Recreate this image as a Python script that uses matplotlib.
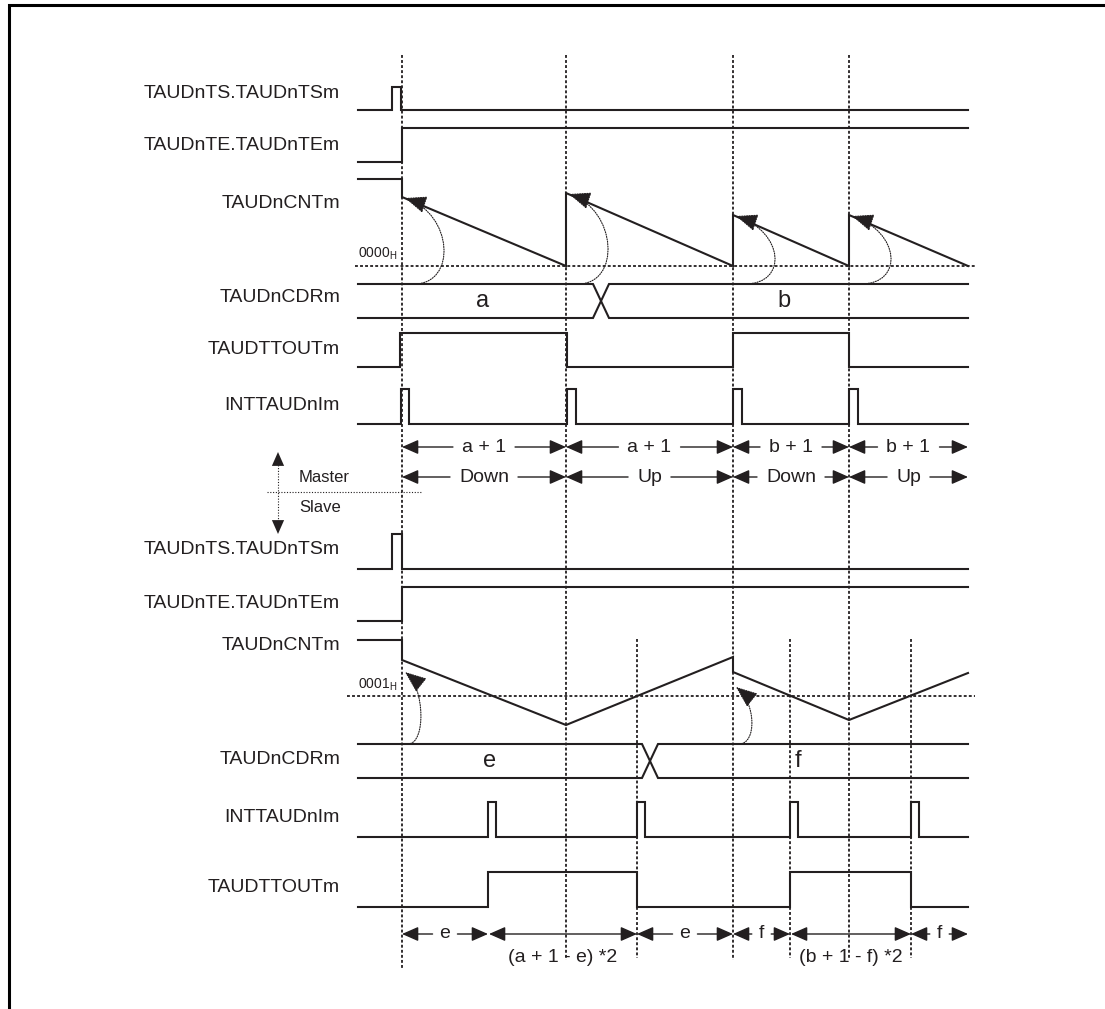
import matplotlib.pyplot as plt
from matplotlib.patches import FancyArrowPatch
from matplotlib.path import Path

ink = '#231f20'
plt.rcParams['font.family'] = ['Liberation Sans', 'DejaVu Sans']

# timing marks (pixel positions along the time axis)
x_start, x_end = 358, 968
t_master = [402, 566, 733, 849]
t_slave = [637, 790, 911]

# master channel
master_labels = ['TAUDnTS.TAUDnTSm', 'TAUDnTE.TAUDnTEm', 'TAUDnCNTm',
                 'TAUDnCDRm', 'TAUDTTOUTm', 'INTTAUDnIm']
ts_m_edges = [392, 401]
te_m_edges = [402]
tout_m_edges = [400, 567, 733, 849]
int_m_edges = [401, 409, 567, 576, 733, 742, 849, 858]
cnt_m_x = [358, 402, 402, 566, 566, 733, 733, 849, 849, 968]
cnt_m_y = [179, 179, 197, 266, 193, 266, 215, 266, 215, 266]
cnt_m_reload = [197, 193, 215, 215]
cdr_m_values = ['a', 'b']
cdr_m_value_x = [483, 784]
cdr_m_change = 593
row1_labels = ['a + 1', 'a + 1', 'b + 1', 'b + 1']
row2_labels = ['Down', 'Up', 'Down', 'Up']

# slave channel
slave_labels = ['TAUDnTS.TAUDnTSm', 'TAUDnTE.TAUDnTEm', 'TAUDnCNTm',
                'TAUDnCDRm', 'INTTAUDnIm', 'TAUDTTOUTm']
ts_s_edges = [392, 402]
te_s_edges = [402]
int_s_edges = [488, 496, 637, 645, 790, 798, 911, 919]
tout_s_edges = [488, 637, 790, 911]
cnt_s_x = [358, 402, 402, 566, 733, 733, 849, 968]
cnt_s_y = [640, 640, 660, 725, 657, 672, 720, 673]
cnt_s_reload_x = [402, 733]
cnt_s_reload = [672, 687]
cdr_s_values = ['e', 'f']
cdr_s_value_x = [490, 798]
cdr_s_change = 642
slave_bounds = [402, 488, 637, 733, 790, 911, 968]
slave_spans = ['e', '(a + 1 - e) *2', 'e', 'f', '(b + 1 - f) *2', 'f']
slave_long = [False, True, False, False, True, False]

# layout (row levels, label positions)
m_rows = {'ts': (87, 110), 'te': (128, 162), 'tout': (333, 367), 'int': (389, 424)}
s_rows = {'ts': (534, 569), 'te': (587, 621), 'int': (802, 837), 'tout': (872, 907)}
m_label_y = [94, 146, 203, 298, 350, 405]
s_label_y = [550, 603, 646, 760, 818, 888]
cdr_m_y = (284, 318)
cdr_s_y = (744, 778)
zero_m_y, zero_s_y = 266, 696

fig = plt.figure(figsize=(11.05, 10.09), dpi=100)
ax = fig.add_axes([0, 0, 1, 1])
ax.set_xlim(0, 1105)
ax.set_ylim(1009, 0)
ax.axis('off')
renderer = fig.canvas.get_renderer()

sig = dict(color=ink, lw=1.5, solid_joinstyle='miter')
dots = dict(color=ink, lw=1.3, linestyle=(0, (1.6, 1.2)))


def wave(edges, hi, lo):
    xs, ys, lvl = [x_start], [lo], lo
    for e in edges:
        nxt = hi if lvl == lo else lo
        xs += [e, e]
        ys += [lvl, nxt]
        lvl = nxt
    xs.append(x_end)
    ys.append(lvl)
    ax.plot(xs, ys, **sig)


def bus(change, top, bot, values, value_x, fs):
    w = 16
    ax.plot([x_start, change, change + w, x_end], [top, top, bot, bot], **sig)
    ax.plot([x_start, change, change + w, x_end], [bot, bot, top, top], **sig)
    for v, vx in zip(values, value_x):
        ax.text(vx, (top + bot) / 2, v, ha='center', va='center', fontsize=fs, color=ink)


def arrow(p0, p1, style='-|>', lw=1.0):
    ax.add_patch(FancyArrowPatch(p0, p1, arrowstyle=style + ',head_length=0.5,head_width=0.22',
                                 mutation_scale=20, lw=lw, color=ink,
                                 shrinkA=0, shrinkB=0))


def span(x0, x1, y, label, fs=14, gap=9, family=None):
    t = ax.text((x0 + x1) / 2, y, label, ha='center', va='center', fontsize=fs,
                color=ink, family=family)
    bb = t.get_window_extent(renderer).transformed(ax.transData.inverted())
    arrow((bb.x0 - gap, y), (x0, y))
    arrow((bb.x1 + gap, y), (x1, y))


def curl(x, top, peak, reach, rise, off=12):
    # dotted reload arc from the data register up to the counter
    verts = [(x + off, top), (x + off + reach * 0.9, top),
             (x + 3 + reach, peak + rise), (x + 3, peak)]
    path = Path(verts, [Path.MOVETO, Path.CURVE4, Path.CURVE4, Path.CURVE4])
    ax.add_patch(FancyArrowPatch(path=path,
                                 arrowstyle='-|>,head_length=0.75,head_width=0.3',
                                 mutation_scale=18, lw=0.8, color=ink,
                                 linestyle=(0, (1, 1.2))))


# frame
ax.plot([9, 9, 1105], [1009, 5, 5], color='black', lw=2.2, solid_joinstyle='miter')

# vertical timing guides
for x in t_master:
    ax.plot([x, x], [55, 970 if x == t_master[0] else 960], **dots)
for x in t_slave:
    ax.plot([x, x], [639, 958], **dots)

# ---- master ----
for lab, y in zip(master_labels, m_label_y):
    ax.text(340, y, lab, ha='right', va='center', fontsize=14, color=ink)

wave(ts_m_edges, *m_rows['ts'])
wave(te_m_edges, *m_rows['te'])
wave(tout_m_edges, *m_rows['tout'])
wave(int_m_edges, *m_rows['int'])
ax.plot(cnt_m_x, cnt_m_y, **sig)
ax.plot([355, 975], [zero_m_y, zero_m_y], **dots)
ax.text(358, zero_m_y - 4, r'0000$_\mathregular{H}$', fontsize=10, color=ink, va='bottom')
bus(cdr_m_change, *cdr_m_y, cdr_m_values, cdr_m_value_x, 17)

for x, peak in zip(t_master, cnt_m_reload):
    curl(x, cdr_m_y[0], peak + 1, 48, 16)

bounds = t_master + [x_end]
for i in range(4):
    span(bounds[i], bounds[i + 1], 447, row1_labels[i])
    span(bounds[i], bounds[i + 1], 477, row2_labels[i])

# master / slave divider
ax.plot([267, 422], [492, 492], color=ink, lw=0.8, linestyle=(0, (1, 1.5)))
ax.plot([278, 278], [462, 522], color=ink, lw=0.8, linestyle=(0, (1, 1.5)))
arrow((278, 470), (278, 452), lw=0)
arrow((278, 516), (278, 534), lw=0)
ax.text(299, 478, 'Master', fontsize=12, va='center', color=ink)
ax.text(299, 507, 'Slave', fontsize=12, va='center', color=ink)

# ---- slave ----
for lab, y in zip(slave_labels, s_label_y):
    ax.text(340, y, lab, ha='right', va='center', fontsize=14, color=ink)

wave(ts_s_edges, *s_rows['ts'])
wave(te_s_edges, *s_rows['te'])
wave(int_s_edges, *s_rows['int'])
wave(tout_s_edges, *s_rows['tout'])
ax.plot(cnt_s_x, cnt_s_y, **sig)
ax.plot([347, 975], [zero_s_y, zero_s_y], **dots)
ax.text(358, zero_s_y - 3, r'0001$_\mathregular{H}$', fontsize=10, color=ink, va='bottom')
bus(cdr_s_change, *cdr_s_y, cdr_s_values, cdr_s_value_x, 17)

for x, peak in zip(cnt_s_reload_x, cnt_s_reload):
    curl(x, cdr_s_y[0], peak, 20, 16, off=6)

narrow = ['Liberation Sans Narrow', 'Liberation Sans']
for i, lab in enumerate(slave_spans):
    x0, x1 = slave_bounds[i], slave_bounds[i + 1]
    if slave_long[i]:
        arrow((x0 + 1, 934), (x1, 934), style='<|-|>')
        ax.text((x0 + x1) / 2, 958, lab, ha='center', va='center', fontsize=14,
                color=ink, family=narrow)
    else:
        span(x0, x1, 934, lab, fs=14, gap=7, family=narrow)

fig.savefig('out.png', dpi=100)
